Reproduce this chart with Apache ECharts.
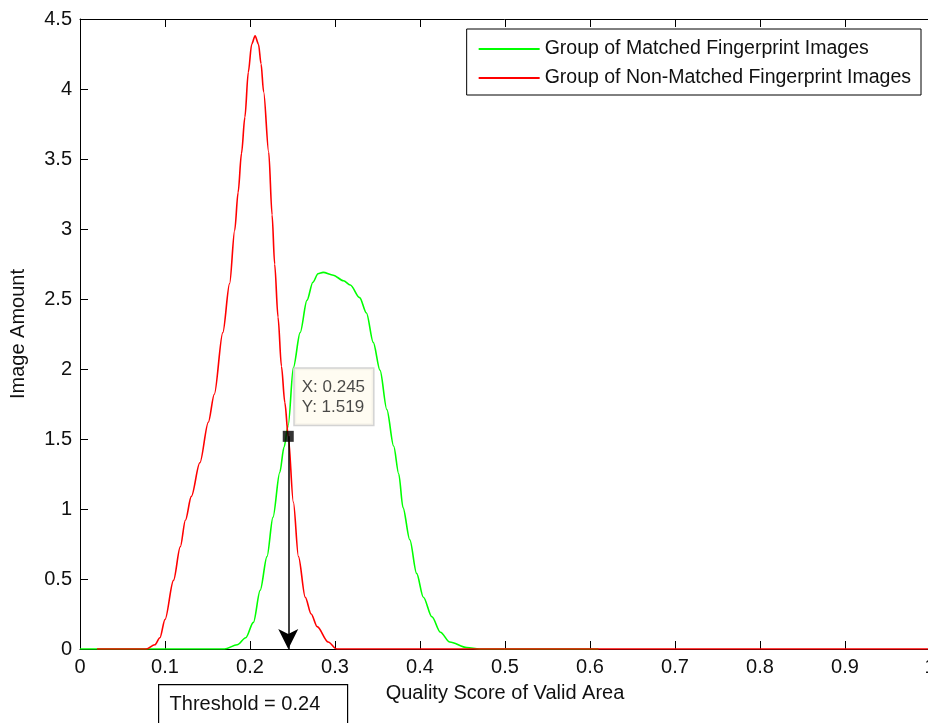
<!DOCTYPE html>
<html>
<head>
<meta charset="utf-8">
<script src="https://cdn.jsdelivr.net/npm/echarts@6/dist/echarts.min.js"></script>
<style>
  html, body { margin: 0; padding: 0; background: #fff; }
  #chart { width: 928px; height: 723px; }
</style>
</head>
<body>
<div id="chart"></div>
<script>
// 曲线数据
const greenX = [0, 0.17, 0.185, 0.195, 0.204, 0.212, 0.22, 0.227, 0.235, 0.24, 0.245, 0.251, 0.259, 0.267, 0.274, 0.28, 0.286, 0.298, 0.31, 0.318, 0.329, 0.337, 0.345, 0.353, 0.361, 0.369, 0.375, 0.38, 0.388, 0.396, 0.404, 0.414, 0.424, 0.435, 0.455, 0.47, 0.61];
const greenY = [0, 0, 0.03, 0.08, 0.19, 0.42, 0.66, 0.94, 1.26, 1.44, 1.6, 2.01, 2.26, 2.49, 2.62, 2.68, 2.69, 2.67, 2.63, 2.6, 2.51, 2.4, 2.19, 1.99, 1.71, 1.45, 1.25, 1.01, 0.78, 0.54, 0.37, 0.23, 0.12, 0.05, 0.01, 0, 0];

const redX = [0.02, 0.078, 0.088, 0.094, 0.1, 0.11, 0.118, 0.124, 0.131, 0.141, 0.151, 0.158, 0.168, 0.176, 0.182, 0.186, 0.19, 0.194, 0.198, 0.202, 0.206, 0.21, 0.213, 0.216, 0.222, 0.226, 0.229, 0.233, 0.237, 0.241, 0.245, 0.251, 0.257, 0.265, 0.272, 0.279, 0.292, 0.302, 1.0];
const redY = [0, 0, 0.03, 0.08, 0.21, 0.49, 0.73, 0.92, 1.09, 1.33, 1.62, 1.82, 2.26, 2.61, 2.99, 3.26, 3.54, 3.8, 4.12, 4.32, 4.38, 4.32, 4.18, 3.98, 3.55, 3.1, 2.75, 2.37, 2.02, 1.76, 1.52, 1.05, 0.66, 0.37, 0.25, 0.16, 0.05, 0, 0];

// 数据提示点 / 阈值
const tipX = 0.245;
const tipY = 1.519;
const threshold = 0.24;

const seriesNames = ["Group of Matched Fingerprint Images", "Group of Non-Matched Fingerprint Images"];

const toPairs = (xs, ys) => xs.map((x, i) => [x, ys[i]]);

const FONT = "Liberation Sans, Arial, sans-serif";
const FS = 20;

const chart = echarts.init(document.getElementById("chart"));

const axisCommon = {
  type: "value",
  axisLine: { show: true, lineStyle: { color: "#000", width: 1 } },
  axisTick: { show: true, inside: true, length: 8, lineStyle: { color: "#000" } },
  splitLine: { show: false }
};

const option = {
  backgroundColor: "#fff",
  animation: false,
  grid: {
    left: 80,
    top: 19,
    width: 850,
    height: 630,
    containLabel: false,
    outerBoundsMode: "none"
  },
  legend: {
    data: seriesNames,
    orient: "vertical",
    right: 7,
    top: 29,
    padding: [10, 10, 7, 12],
    itemGap: 9,
    itemWidth: 61,
    itemHeight: 2,
    icon: "rect",
    borderColor: "#000",
    borderWidth: 1,
    backgroundColor: "#fff",
    textStyle: { fontFamily: FONT, fontSize: 19.5, color: "#111" }
  },
  xAxis: [
    {
      ...axisCommon,
      min: 0,
      max: 1,
      interval: 0.1,
      position: "bottom",
      name: "Quality Score of Valid Area",
      nameLocation: "middle",
      nameGap: 34,
      nameTextStyle: { fontFamily: FONT, fontSize: FS, color: "#111" },
      axisLabel: { fontFamily: FONT, fontSize: FS, color: "#111", margin: 8 }
    },
    {
      ...axisCommon,
      min: 0,
      max: 1,
      interval: 0.1,
      position: "top",
      axisLabel: { show: false }
    }
  ],
  yAxis: [
    {
      ...axisCommon,
      min: 0,
      max: 4.5,
      interval: 0.5,
      name: "Image Amount",
      nameLocation: "middle",
      nameGap: 52,
      nameTextStyle: { fontFamily: FONT, fontSize: FS, color: "#111" },
      axisLabel: { fontFamily: FONT, fontSize: FS, color: "#111", margin: 8 }
    }
  ],
  series: [
    {
      name: seriesNames[0],
      type: "line",
      data: toPairs(greenX, greenY),
      showSymbol: false,
      symbol: "none",
      smooth: 0.3,
      smoothMonotone: "x",
      lineStyle: { color: "#00ff00", width: 1.6 },
      itemStyle: { color: "#00ff00" }
    },
    {
      name: seriesNames[1],
      type: "line",
      data: toPairs(redX, redY),
      showSymbol: false,
      symbol: "none",
      smooth: 0.3,
      smoothMonotone: "x",
      lineStyle: { color: "#ff0000", width: 1.6 },
      itemStyle: { color: "#ff0000" }
    },
    {
      // 数据提示 + 箭头
      name: "datatip",
      type: "scatter",
      data: [[tipX, tipY]],
      symbol: "rect",
      symbolSize: 11,
      z: 5,
      itemStyle: { color: "#000" },
      label: {
        show: true,
        position: [12, -62],
        formatter: "X: " + tipX + "\nY: " + tipY,
        fontFamily: FONT,
        fontSize: 17,
        lineHeight: 20,
        color: "#1a1a1a",
        backgroundColor: "#fffbef",
        borderColor: "#c8c8c8",
        borderWidth: 1.5,
        padding: [8, 8, 8, 7]
      },
      markLine: {
        silent: true,
        symbol: ["none", "arrow"],
        symbolSize: [15, 20],
        label: { show: false },
        lineStyle: { color: "#000", width: 1.5, type: "solid" },
        data: [[{ coord: [tipX, tipY] }, { coord: [tipX, 0] }]]
      }
    }
  ],
  graphic: [
    {
      type: "group",
      left: 158,
      top: 684,
      children: [
        {
          type: "rect",
          shape: { x: 0, y: 0, width: 189, height: 60 },
          style: { fill: "#fff", stroke: "#000", lineWidth: 1.2 }
        },
        {
          type: "text",
          x: 11,
          y: 10,
          style: {
            text: "Threshold = " + threshold,
            fontFamily: FONT,
            fontSize: FS,
            fill: "#111"
          }
        }
      ]
    }
  ]
};

chart.setOption(option);
</script>
</body>
</html>
